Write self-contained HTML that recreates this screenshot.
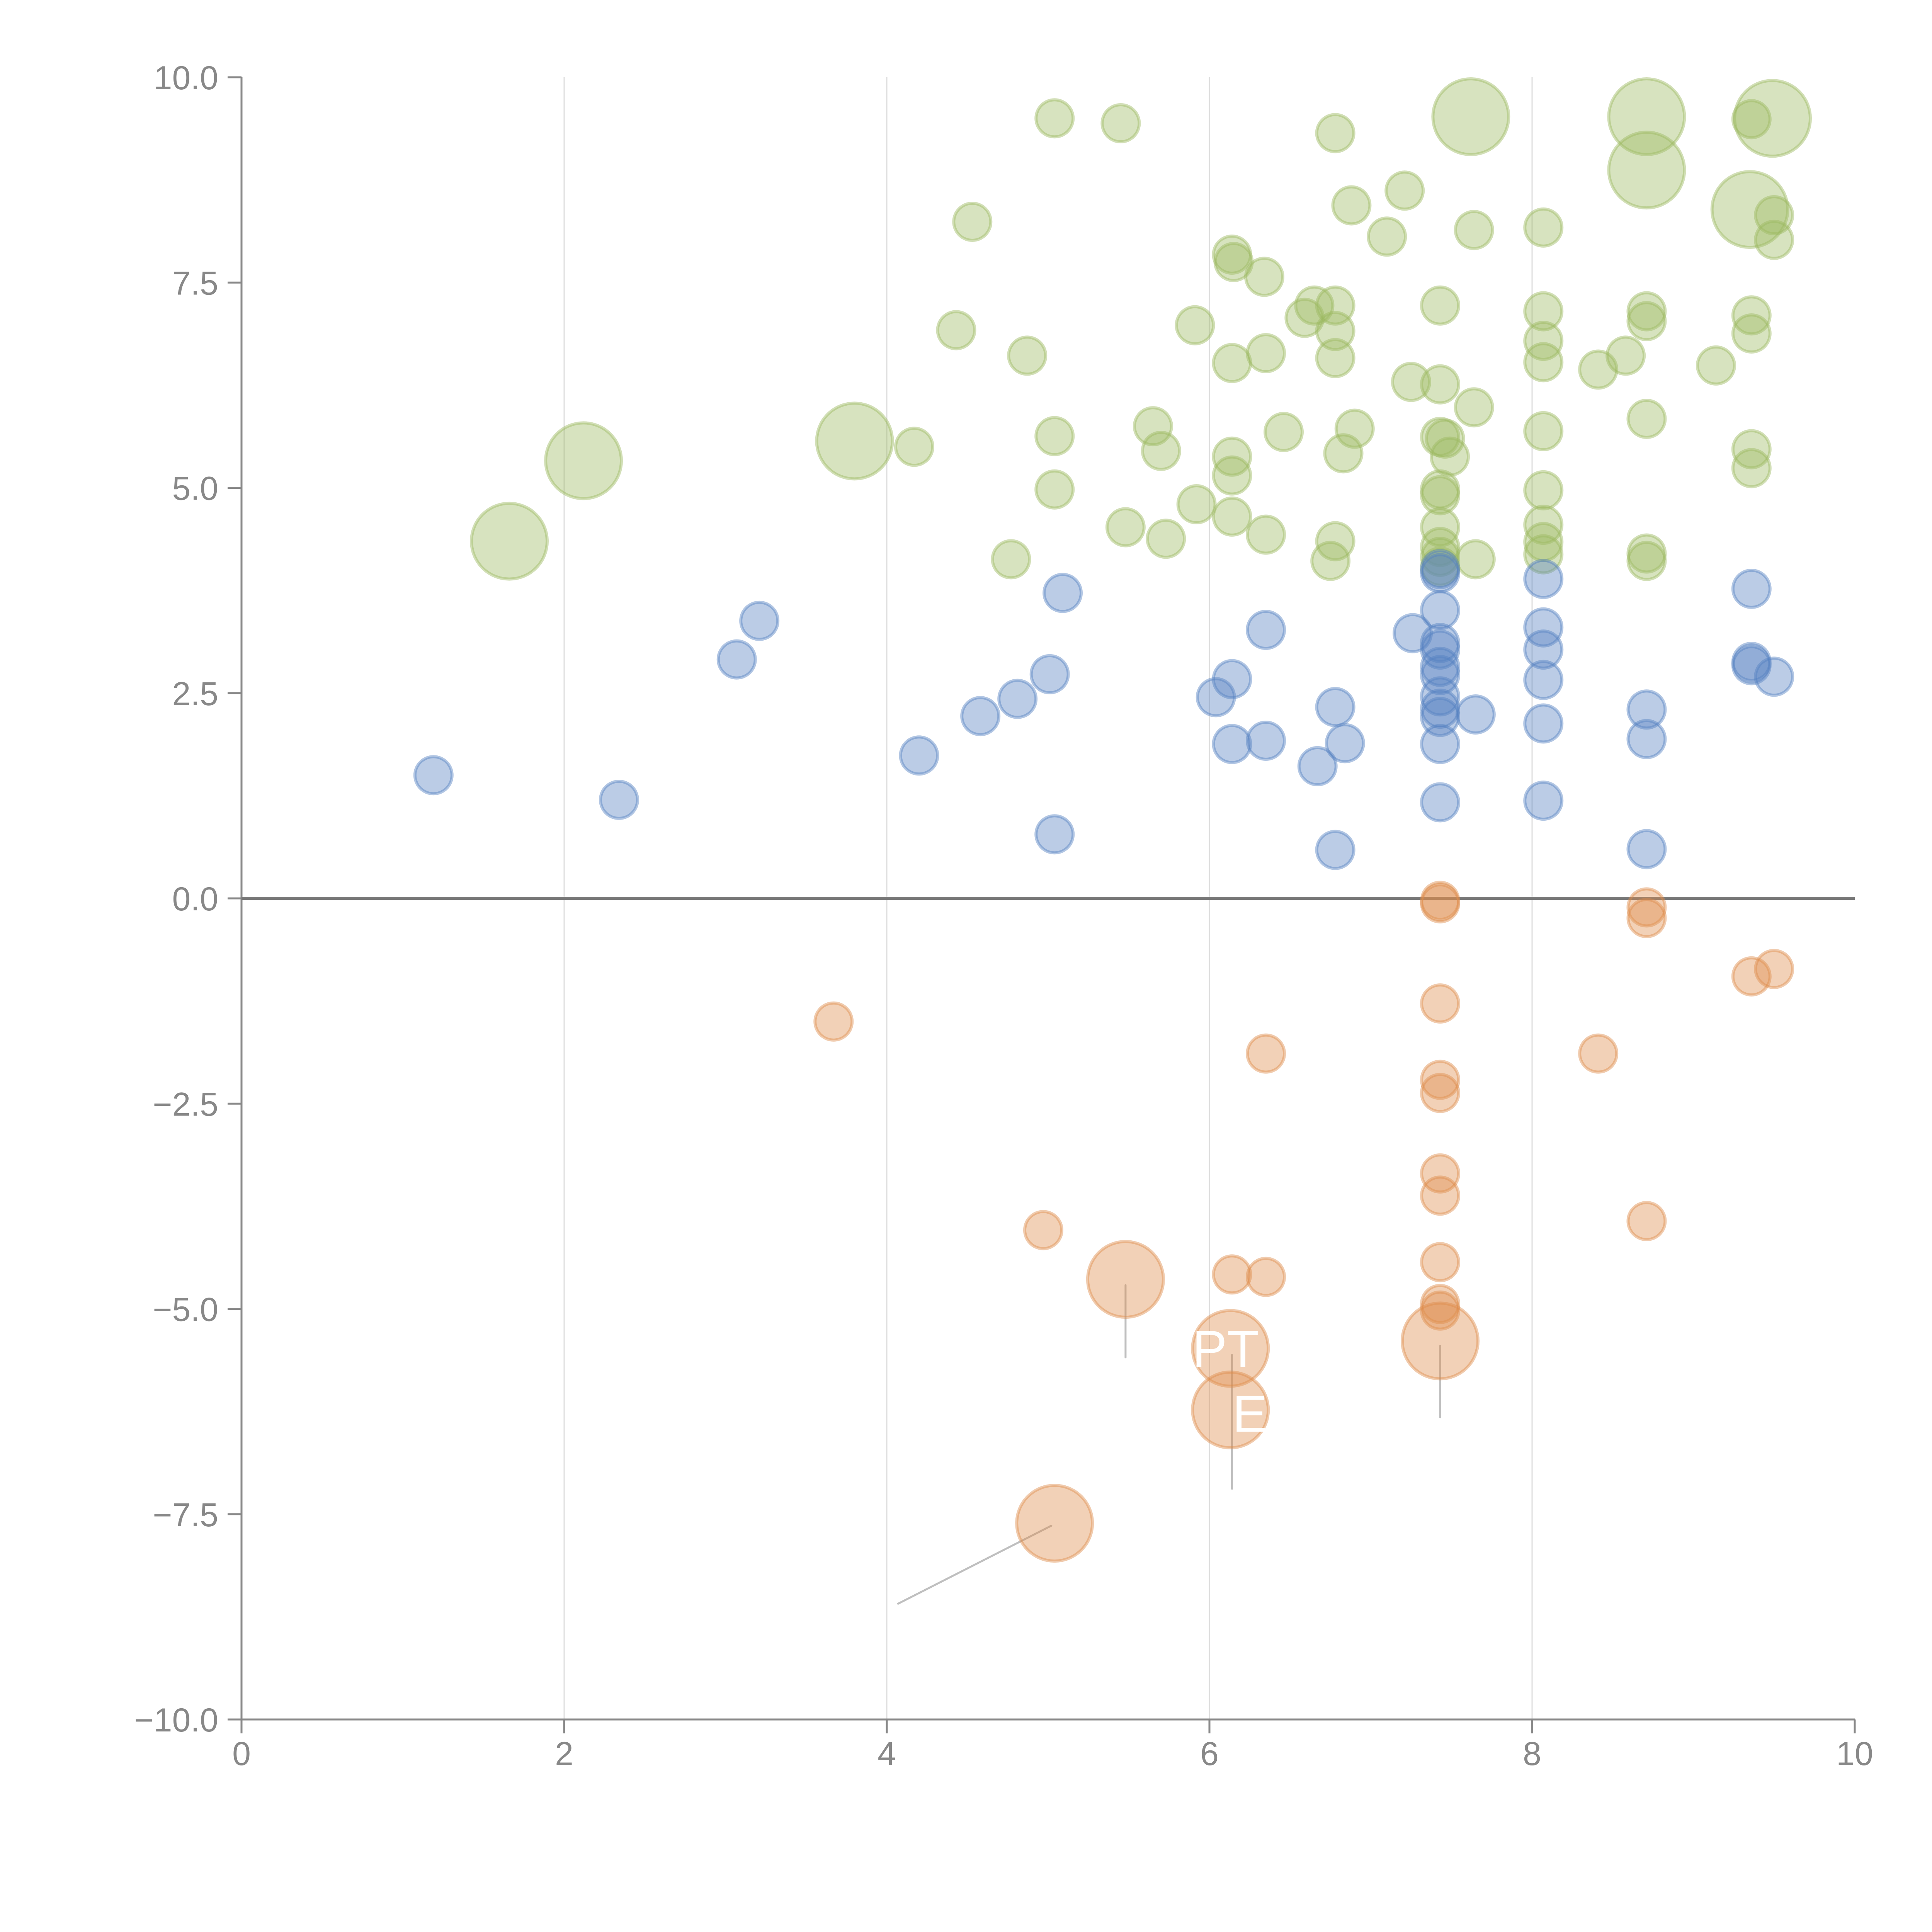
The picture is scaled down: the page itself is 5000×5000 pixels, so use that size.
<!DOCTYPE html>
<html><head><meta charset="utf-8"><style>
html,body{margin:0;padding:0;background:#fff;}
svg{display:block;font-family:"Liberation Sans",Arial,sans-serif;}
</style></head><body>
<svg id="chart" width="5000" height="5000" viewBox="0 0 5000 5000" xmlns="http://www.w3.org/2000/svg">
<g id="grid"></g>
<g id="axes"></g>
<g id="leaders"></g>
<g id="marks"></g>
<g id="labels"></g>
</svg>
<script>
const xTicks=[0,2,4,6,8,10];
const xTickLabels=["0","2","4","6","8","10"];
const yTicks=[10,7.5,5,2.5,0,-2.5,-5,-7.5,-10];
const yTickLabels=["10.0","7.5","5.0","2.5","0.0","\u22122.5","\u22125.0","\u22127.5","\u221210.0"];

const greenX=[5.04,5.45,6.78,7.62,8.71,9.49,9.36,8.71,9.35,9.50,9.50,4.53,7.21,6.88,7.10,7.64,8.07,6.14,6.15,6.34,6.65,6.59,6.78,6.78,6.78,7.43,8.07,8.07,8.07,8.71,8.71,9.36,9.36,4.43,5.91,4.87,6.14,6.35,7.25,7.43,7.64,8.41,8.58,9.14,3.80,4.17,2.12,1.66,5.04,5.65,5.70,6.46,6.90,6.14,6.14,6.83,7.43,7.46,7.49,8.07,8.71,9.36,9.36,5.04,5.48,5.73,5.92,6.14,6.35,6.78,6.75,4.77,7.43,7.43,7.43,7.43,7.43,7.43,7.65,8.07,8.07,8.07,8.07,8.71,8.71];
const greenY=[9.50,9.44,9.32,9.52,9.52,9.50,9.49,8.87,8.39,8.32,8.02,8.24,8.62,8.44,8.06,8.14,8.17,7.84,7.75,7.57,7.22,7.07,7.22,6.91,6.58,7.22,7.15,6.79,6.53,7.15,7.03,7.10,6.88,6.92,6.98,6.61,6.52,6.64,6.29,6.26,5.98,6.44,6.61,6.49,5.57,5.50,5.33,4.35,5.63,5.75,5.45,5.68,5.72,5.38,5.15,5.42,5.62,5.60,5.38,5.69,5.84,5.47,5.24,4.98,4.52,4.38,4.80,4.65,4.43,4.35,4.11,4.13,4.98,4.91,4.52,4.28,4.16,4.04,4.13,4.97,4.55,4.34,4.19,4.20,4.11];
const greenSize=[1,1,1,2,2,2,1,2,2,1,1,1,1,1,1,1,1,1,1,1,1,1,1,1,1,1,1,1,1,1,1,1,1,1,1,1,1,1,1,1,1,1,1,1,2,1,2,2,1,1,1,1,1,1,1,1,1,1,1,1,1,1,1,1,1,1,1,1,1,1,1,1,1,1,1,1,1,1,1,1,1,1,1,1,1];

const blueX=[1.19,2.34,3.07,3.21,4.20,4.58,4.81,5.01,5.09,5.04,6.04,6.14,6.14,6.35,6.35,6.67,6.78,6.84,6.78,7.26,7.43,7.43,7.43,7.43,7.43,7.43,7.43,7.43,7.43,7.43,7.43,7.43,7.65,8.07,8.07,8.07,8.07,8.07,8.07,8.71,8.71,8.71,9.36,9.36,9.36,9.50];
const blueY=[1.50,1.20,2.91,3.38,1.74,2.22,2.43,2.73,3.72,0.78,2.45,2.67,1.88,3.27,1.92,1.61,2.33,1.89,0.59,3.23,4.01,3.96,3.51,3.11,3.03,2.82,2.72,2.46,2.31,2.21,1.88,1.17,2.24,3.89,3.30,3.03,2.66,2.13,1.19,2.30,1.94,0.60,3.77,2.88,2.84,2.70];

const orangeX=[3.67,6.35,4.97,5.48,6.14,6.35,6.13,6.13,5.04,7.43,7.43,7.43,7.43,7.43,7.43,7.43,7.43,7.43,7.43,7.43,8.71,8.71,8.71,8.41,9.36,9.50];
const orangeY=[-1.50,-1.89,-4.04,-4.64,-4.58,-4.61,-5.48,-6.23,-7.61,-0.03,-0.06,-1.28,-2.21,-2.37,-3.35,-3.62,-4.43,-4.94,-5.02,-5.39,-0.11,-0.24,-3.93,-1.89,-0.95,-0.86];
const orangeSize=[1,1,1,2,1,1,2,2,2,1,1,1,1,1,1,1,1,1,1,2,1,1,1,1,1,1];

const leaderX1=[5.48,6.14,7.43,5.02];
const leaderY1=[-4.71,-5.56,-5.45,-7.64];
const leaderX2=[5.48,6.14,7.43,4.07];
const leaderY2=[-5.59,-7.19,-6.32,-8.59];

const labelText=["PT","E"];
const labelX=[6.10,6.25];
const labelY=[-5.48,-6.27];

const NS="http://www.w3.org/2000/svg";
const X0=625,X1=4800,Y0=4450,Y1=200;
function sx(v){return X0+(v-0)/(10-0)*(X1-X0);}
function sy(v){return Y0-(v+10)/20*(Y0-Y1);}
function mk(tag,attrs,parent){const e=document.createElementNS(NS,tag);for(const k in attrs)e.setAttribute(k,attrs[k]);parent.appendChild(e);return e;}
const grid=document.getElementById('grid'),axes=document.getElementById('axes'),marks=document.getElementById('marks'),leaders=document.getElementById('leaders'),labels=document.getElementById('labels');

for(let i=0;i<xTicks.length;i++){
  const v=xTicks[i];
  if(v>0&&v<10){const g=mk('line',{x1:sx(v),x2:sx(v),y1:Y1,y2:Y0,stroke:'#dddddd','stroke-width':3},grid);
  
  }
  const t=mk('line',{x1:sx(v),x2:sx(v),y1:Y0,y2:Y0+36,stroke:'#888','stroke-width':5},axes);
  
  
  const l=mk('text',{x:sx(v),y:4568,'text-anchor':'middle','font-size':86,fill:'#888'},axes);
  l.textContent=xTickLabels[i];
  
  
}
for(let i=0;i<yTicks.length;i++){
  const v=yTicks[i];
  const t=mk('line',{x1:X0-36,x2:X0,y1:sy(v),y2:sy(v),stroke:'#888','stroke-width':5},axes);
  
  
  const l=mk('text',{x:565,y:sy(v)+31,'text-anchor':'end','font-size':86,fill:'#888'},axes);
  l.textContent=yTickLabels[i];
  
  
}
const ya=mk('line',{x1:X0,x2:X0,y1:Y1,y2:Y0+36,stroke:'#888','stroke-width':5},axes);


const xa=mk('line',{x1:X0,x2:X1,y1:Y0,y2:Y0,stroke:'#888','stroke-width':5},axes);


const zl=mk('line',{x1:X0,x2:X1,y1:sy(0),y2:sy(0),stroke:'#777','stroke-width':8},axes);



function rOf(s){return s===2?98:48;}
function drawSeries(xs,ys,sizes,color,name){
  for(let i=0;i<xs.length;i++){
    const c=mk('circle',{cx:sx(xs[i]),cy:sy(ys[i]),r:rOf(sizes?sizes[i]:1),fill:color,'fill-opacity':0.4,stroke:color,'stroke-opacity':0.45,'stroke-width':8},marks);
    
    
  }
}
drawSeries(greenX,greenY,greenSize,'#9bb95f','green-bubble');
drawSeries(blueX,blueY,null,'#5580c0','blue-bubble');
drawSeries(orangeX,orangeY,orangeSize,'#de8c4c','orange-bubble');

for(let i=0;i<leaderX1.length;i++){
  const l=mk('line',{x1:sx(leaderX1[i]),y1:sy(leaderY1[i]),x2:sx(leaderX2[i]),y2:sy(leaderY2[i]),stroke:'#808080','stroke-opacity':0.5,'stroke-width':5,'stroke-linecap':'round'},leaders);
  
  
}
for(let i=0;i<labelText.length;i++){
  const t=mk('text',{x:sx(labelX[i]),y:sy(labelY[i])+48,'text-anchor':'middle','font-size':135,fill:'#fff'},labels);
  t.textContent=labelText[i];
  
  
}
</script>
</body></html>
